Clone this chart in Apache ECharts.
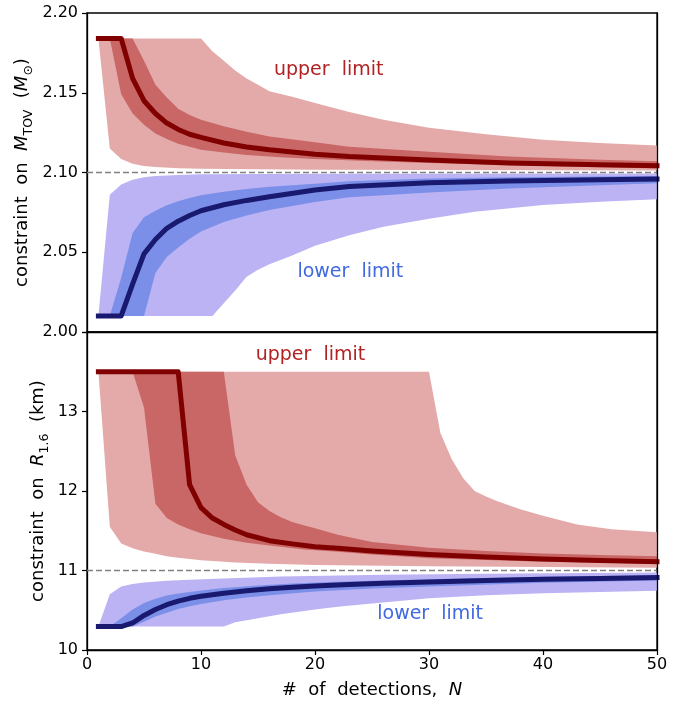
<!DOCTYPE html>
<html>
<head>
<meta charset="utf-8">
<script src="https://cdn.jsdelivr.net/npm/echarts@6/dist/echarts.min.js"></script>
<style>
html, body { margin: 0; padding: 0; background: #fff; }
#chart { width: 694px; height: 702px; }
</style>
</head>
<body>
<div id="chart"></div>
<script>
// [N, value] pairs

// top panel: M_TOV, upper limit (red)
var massUpMed = [[1,2.184],[2,2.184],[3,2.184],[4,2.159],[5,2.145],[6,2.137],[7,2.131],[8,2.127],[9,2.124],[10,2.122],[12,2.1185],[14,2.116],[16,2.1142],[20,2.1115],[23,2.110],[30,2.1078],[37,2.106],[45,2.1049],[50,2.1043]];
var massUpInHi = [[1,2.184],[4,2.184],[5,2.170],[6,2.155],[7,2.147],[8,2.140],[9,2.136],[10,2.133],[12,2.129],[14,2.1255],[16,2.1225],[20,2.119],[23,2.1162],[30,2.113],[37,2.110],[45,2.108],[50,2.107]];
var massUpInLo = [[1,2.184],[2,2.184],[3,2.149],[4,2.137],[5,2.130],[6,2.1245],[7,2.121],[8,2.118],[10,2.1143],[12,2.1125],[14,2.111],[17,2.1095],[20,2.1085],[25,2.107],[30,2.106],[40,2.104],[50,2.1025]];
var massUpOutHi = [[1,2.184],[10,2.184],[11,2.176],[12,2.170],[13,2.164],[14,2.159],[15,2.155],[16,2.151],[18,2.1475],[20,2.1435],[23,2.138],[26,2.133],[30,2.128],[35,2.124],[40,2.1205],[45,2.1185],[50,2.117]];
var massUpOutLo = [[1,2.184],[2,2.115],[3,2.1085],[4,2.1055],[5,2.104],[6,2.1035],[8,2.1027],[10,2.1023],[15,2.102],[20,2.1018],[30,2.1015],[50,2.1012]];

// top panel: M_TOV, lower limit (blue)
var massLoMed = [[1,2.0101],[2,2.0101],[3,2.0101],[4,2.030],[5,2.049],[6,2.058],[7,2.065],[8,2.0695],[9,2.073],[10,2.076],[12,2.0798],[14,2.0825],[16,2.0848],[20,2.089],[23,2.0912],[30,2.0935],[37,2.0947],[45,2.0955],[50,2.0959]];
var massLoInHi = [[1,2.0101],[2,2.0101],[3,2.034],[4,2.062],[5,2.072],[6,2.076],[7,2.0795],[8,2.082],[9,2.084],[10,2.0858],[12,2.088],[14,2.0897],[16,2.091],[20,2.093],[23,2.0945],[30,2.0962],[37,2.097],[50,2.0978]];
var massLoInLo = [[1,2.0101],[5,2.0101],[6,2.037],[7,2.047],[8,2.053],[9,2.0585],[10,2.063],[12,2.069],[14,2.073],[16,2.0765],[20,2.0815],[23,2.0845],[30,2.0875],[37,2.090],[45,2.092],[50,2.0932]];
var massLoOutHi = [[1,2.0101],[2,2.086],[3,2.0925],[4,2.0955],[5,2.097],[6,2.0978],[8,2.0985],[10,2.0989],[20,2.0992],[50,2.0994]];
var massLoOutLo = [[1,2.0101],[11,2.0101],[12,2.018],[13,2.026],[14,2.0346],[15,2.039],[16,2.0425],[18,2.048],[20,2.054],[23,2.0607],[26,2.066],[30,2.071],[34,2.0754],[40,2.0796],[45,2.0817],[50,2.0832]];

// bottom panel: R_1.6, upper limit (red)
var radUpMed = [[1,13.5],[8,13.5],[9,12.08],[10,11.79],[11,11.66],[12,11.58],[13,11.51],[14,11.45],[16,11.375],[18,11.335],[20,11.30],[22,11.28],[25,11.245],[30,11.20],[35,11.17],[40,11.145],[45,11.125],[50,11.11]];
var radUpInHi = [[1,13.5],[12,13.5],[13,12.45],[14,12.08],[15,11.86],[16,11.75],[17,11.67],[18,11.61],[19,11.57],[20,11.53],[22,11.45],[25,11.36],[30,11.285],[35,11.245],[40,11.215],[45,11.195],[50,11.18]];
var radUpInLo = [[1,13.5],[4,13.5],[5,13.05],[6,11.84],[7,11.66],[8,11.58],[9,11.52],[10,11.47],[12,11.40],[14,11.35],[16,11.315],[19,11.265],[22,11.235],[25,11.20],[30,11.155],[40,11.11],[50,11.085]];
var radUpOutHi = [[1,13.5],[30,13.5],[31,12.73],[32,12.40],[33,12.16],[34,12.0],[35,11.93],[36,11.87],[38,11.77],[40,11.69],[43,11.58],[46,11.52],[50,11.48]];
var radUpOutLo = [[1,13.5],[2,11.55],[3,11.34],[4,11.28],[5,11.24],[6,11.21],[7,11.18],[8,11.16],[10,11.13],[13,11.10],[16,11.085],[20,11.07],[30,11.055],[50,11.035]];

// bottom panel: R_1.6, lower limit (blue)
var radLoMed = [[1,10.295],[3,10.295],[4,10.34],[5,10.435],[6,10.51],[7,10.57],[8,10.615],[9,10.65],[10,10.675],[12,10.715],[14,10.745],[16,10.77],[18,10.79],[20,10.805],[23,10.825],[26,10.84],[30,10.855],[35,10.875],[40,10.89],[45,10.90],[50,10.91]];
var radLoInHi = [[1,10.295],[2,10.295],[3,10.40],[4,10.51],[5,10.59],[6,10.645],[7,10.685],[8,10.71],[10,10.75],[12,10.78],[15,10.81],[18,10.835],[22,10.86],[26,10.875],[30,10.89],[40,10.92],[50,10.94]];
var radLoInLo = [[1,10.295],[4,10.295],[5,10.355],[6,10.42],[7,10.47],[8,10.515],[9,10.55],[10,10.58],[12,10.625],[14,10.66],[16,10.69],[20,10.735],[25,10.775],[30,10.80],[40,10.845],[50,10.875]];
var radLoOutHi = [[1,10.295],[2,10.70],[3,10.80],[4,10.83],[5,10.85],[7,10.87],[9,10.885],[12,10.90],[17,10.925],[26,10.945],[35,10.96],[50,10.975]];
var radLoOutLo = [[1,10.295],[12,10.295],[13,10.35],[15,10.40],[17,10.45],[20,10.51],[22,10.545],[25,10.585],[30,10.65],[35,10.69],[40,10.715],[45,10.73],[50,10.745]];

var xTicks = [0, 10, 20, 30, 40, 50];
var massTicks = [2.00, 2.05, 2.10, 2.15, 2.20];
var radTicks = [10, 11, 12, 13];
var massRef = 2.10;
var radRef = 11;

var FONT = 'DejaVu Sans';
var LIGHT_RED = '#e4aaaa', MID_RED = '#c96666', DARK_RED = '#800000';
var LIGHT_BLUE = '#bbb3f3', MID_BLUE = '#7b8fe8', DARK_BLUE = '#191970';

// filled region between two edges, drawn as one polygon
function band(lo, hi, color, idx) {
	return {
		type: 'custom',
		xAxisIndex: idx,
		yAxisIndex: idx,
		silent: true,
		data: [[hi[0][0], hi[0][1]]],
		renderItem: function(params, api) {
			var pts = [];
			for (var i = 0; i < hi.length; i++) pts.push(api.coord(hi[i]));
			for (var j = lo.length - 1; j >= 0; j--) pts.push(api.coord(lo[j]));
			return {
				type: 'polygon',
				shape: { points: pts },
				style: { fill: color, stroke: null }
			};
		}
	};
}

function median(data, color, idx) {
	return {
		type: 'line',
		xAxisIndex: idx,
		yAxisIndex: idx,
		data: data,
		showSymbol: false,
		silent: true,
		lineStyle: { color: color, width: 5, cap: 'square', join: 'round' },
		z: 4
	};
}

// text placed at a data position
function note(text, pos, color, idx) {
	return {
		type: 'custom',
		xAxisIndex: idx,
		yAxisIndex: idx,
		silent: true,
		data: [pos],
		z: 5,
		renderItem: function(params, api) {
			var p = api.coord([api.value(0), api.value(1)]);
			return {
				type: 'text',
				x: p[0], y: p[1],
				style: {
					text: text, fill: color, font: '19px "DejaVu Sans"',
					align: 'center', verticalAlign: 'middle'
				}
			};
		}
	};
}

function refLine(value, idx) {
	return {
		type: 'line',
		xAxisIndex: idx,
		yAxisIndex: idx,
		data: [],
		markLine: {
			silent: true,
			symbol: 'none',
			label: { show: false },
			lineStyle: { color: '#808080', width: 1.3, type: [6, 3] },
			data: [{ yAxis: value }]
		}
	};
}

var nameRich = {
	t: { fontFamily: FONT, fontSize: 18, color: '#000', lineHeight: 26 },
	i: { fontFamily: FONT, fontSize: 18, fontStyle: 'italic', color: '#000', lineHeight: 26 },
	s: { fontFamily: FONT, fontSize: 12.5, color: '#000', verticalAlign: 'bottom', lineHeight: 14 }
};

function xAxisFor(idx, showLabels) {
	return {
		type: 'value', gridIndex: idx, min: 0, max: 50, interval: 10,
		axisLine: { show: true, lineStyle: { color: '#000', width: 1.3 } },
		axisTick: { show: showLabels, length: 5, lineStyle: { color: '#000', width: 1.2 } },
		axisLabel: { show: showLabels, fontFamily: FONT, fontSize: 16, color: '#000', margin: 7 },
		splitLine: { show: false },
		name: showLabels ? '#  of  detections,  {i|N}' : '',
		nameLocation: 'middle',
		nameGap: 27,
		nameMoveOverlap: false,
		nameTextStyle: { fontFamily: FONT, fontSize: 18, color: '#000', rich: nameRich }
	};
}

var chart = echarts.init(document.getElementById('chart'));
var option = {
	animation: false,
	backgroundColor: '#fff',
	grid: [
		{ left: 87, top: 13, width: 570, height: 319, show: true, borderColor: '#000', borderWidth: 1.3, backgroundColor: 'transparent' },
		{ left: 87, top: 332, width: 570, height: 318, show: true, borderColor: '#000', borderWidth: 1.3, backgroundColor: 'transparent' }
	],
	xAxis: [xAxisFor(0, false), xAxisFor(1, true)],
	yAxis: [
		{
			type: 'value', gridIndex: 0, min: 2.0, max: 2.2, interval: 0.05,
			axisLine: { show: true, lineStyle: { color: '#000', width: 1.3 } },
			axisTick: { show: true, length: 5, lineStyle: { color: '#000', width: 1.2 } },
			axisLabel: {
				fontFamily: FONT, fontSize: 16, color: '#000', margin: 9,
				formatter: function(v) { return v.toFixed(2); }
			},
			splitLine: { show: false },
			name: '{t|constraint  on  }{i|M}{s|TOV}{t|  (}{i|M}{s|⊙}{t|)}',
			nameLocation: 'middle', nameGap: 52,
			nameMoveOverlap: false,
			nameTextStyle: { rich: nameRich }
		},
		{
			type: 'value', gridIndex: 1, min: 10, max: 14, interval: 1,
			axisLine: { show: true, lineStyle: { color: '#000', width: 1.3 } },
			axisTick: { show: true, length: 5, lineStyle: { color: '#000', width: 1.2 } },
			axisLabel: {
				fontFamily: FONT, fontSize: 16, color: '#000', margin: 9,
				formatter: function(v) { return radTicks.indexOf(v) >= 0 ? String(v) : ''; }
			},
			splitLine: { show: false },
			name: '{t|constraint  on  }{i|R}{s|1.6}{t|  (km)}',
			nameLocation: 'middle', nameGap: 36,
			nameMoveOverlap: false,
			nameTextStyle: { rich: nameRich }
		},
		// right-hand frame edges, kept above the bands
		{ type: 'value', gridIndex: 0, position: 'right', min: 2.0, max: 2.2, z: 10,
		  axisLine: { show: true, lineStyle: { color: '#000', width: 1.3 } },
		  axisTick: { show: false }, axisLabel: { show: false }, splitLine: { show: false } },
		{ type: 'value', gridIndex: 1, position: 'right', min: 10, max: 14, z: 10,
		  axisLine: { show: true, lineStyle: { color: '#000', width: 1.3 } },
		  axisTick: { show: false }, axisLabel: { show: false }, splitLine: { show: false } }
	],
	series: [
		refLine(massRef, 0),
		band(massUpOutLo, massUpOutHi, LIGHT_RED, 0),
		band(massUpInLo, massUpInHi, MID_RED, 0),
		band(massLoOutLo, massLoOutHi, LIGHT_BLUE, 0),
		band(massLoInLo, massLoInHi, MID_BLUE, 0),
		median(massUpMed, DARK_RED, 0),
		median(massLoMed, DARK_BLUE, 0),
		note('upper  limit', [21.2, 2.1645], '#b22222', 0),
		note('lower  limit', [23.1, 2.0375], '#4169e1', 0),

		refLine(radRef, 1),
		band(radUpOutLo, radUpOutHi, LIGHT_RED, 1),
		band(radUpInLo, radUpInHi, MID_RED, 1),
		band(radLoOutLo, radLoOutHi, LIGHT_BLUE, 1),
		band(radLoInLo, radLoInHi, MID_BLUE, 1),
		median(radUpMed, DARK_RED, 1),
		median(radLoMed, DARK_BLUE, 1),
		note('upper  limit', [19.6, 13.71], '#b22222', 1),
		note('lower  limit', [30.1, 10.455], '#4169e1', 1)
	]
};
chart.setOption(option);
</script>
</body>
</html>
